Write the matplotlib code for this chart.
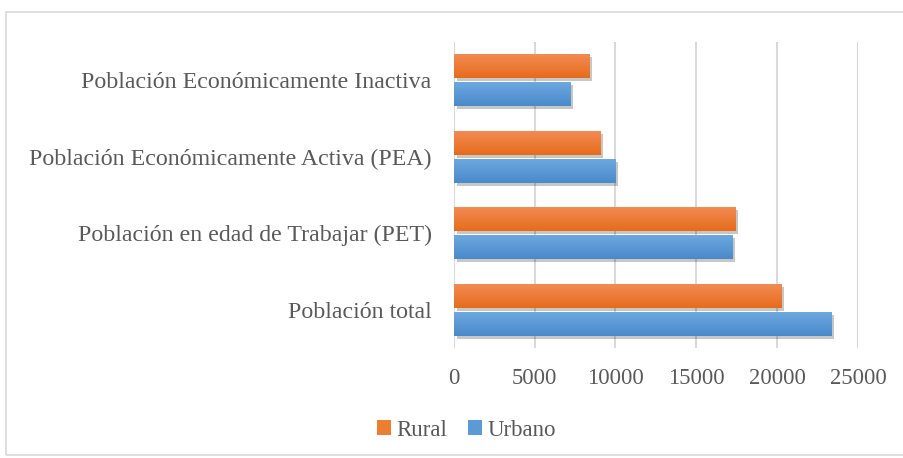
import matplotlib
matplotlib.use("Agg")
import matplotlib.pyplot as plt
import numpy as np
from matplotlib.patches import Rectangle, Patch
import matplotlib.patheffects as pe
from matplotlib.colors import LinearSegmentedColormap

categories = ["Población total", "Población en edad de Trabajar (PET)",
              "Población Económicamente Activa (PEA)", "Población Económicamente Inactiva"]
urbano = [23350, 17200, 9980, 7200]
rural = [20250, 17400, 9050, 8400]
xticks = [0, 5000, 10000, 15000, 20000, 25000]

plt.rcParams['font.family'] = ['Liberation Serif', 'DejaVu Serif']
grey = '#595959'

fig = plt.figure(figsize=(9.04, 4.58), dpi=100)
ax = fig.add_axes([0.502, 0.240, 0.447, 0.668])

y = np.arange(len(categories))
h = 0.314
off = 0.183

shadow = [pe.SimplePatchShadow(offset=(2, -2), shadow_rgbFace='#000000', alpha=0.22), pe.Normal()]
b_u = ax.barh(y - off, urbano, height=h, color='#5B9BD5', zorder=3, path_effects=shadow)
b_r = ax.barh(y + off, rural, height=h, color='#ED7D31', zorder=3, path_effects=shadow)

grad = np.linspace(0, 1, 64).reshape(-1, 1)
cm_u = LinearSegmentedColormap.from_list('u', ['#6EA9E0', '#4A8ACB'])
cm_r = LinearSegmentedColormap.from_list('r', ['#F38C55', '#E66C1C'])
for bars, cm in ((b_u, cm_u), (b_r, cm_r)):
    for bar in bars:
        x0, y0 = bar.get_x(), bar.get_y()
        w, hh = bar.get_width(), bar.get_height()
        im = ax.imshow(grad, cmap=cm, aspect='auto', origin='upper',
                       extent=(x0, x0 + w, y0, y0 + hh), zorder=4)
        im.set_clip_path(bar)

ax.set_xlim(0, 25000)
ax.set_ylim(-0.5, 3.5)
ax.set_xticks(xticks)
ax.set_xticklabels([str(t) for t in xticks])
ax.set_yticks(y)
ax.set_yticklabels(categories)
ax.tick_params(axis='both', length=0, colors=grey)
ax.tick_params(axis='y', pad=16, labelsize=17.2)
ax.tick_params(axis='x', pad=14, labelsize=16.3)
ax.grid(axis='x', color='#D9D9D9', linewidth=1.5, zorder=0)
for s in ax.spines.values():
    s.set_visible(False)

handles = [Patch(facecolor='#ED7D31', label='Rural'), Patch(facecolor='#5B9BD5', label='Urbano')]
leg = fig.legend(handles=handles, loc='center', bbox_to_anchor=(0.516, 0.061), ncol=2,
                 frameon=False, fontsize=16.5, handlelength=0.6, handleheight=0.6,
                 handletextpad=0.25, columnspacing=0.9, labelcolor=grey)

fig.patches.append(Rectangle((6 / 904, 3 / 458), 1.2, 1 - 15 / 458, transform=fig.transFigure,
                             fill=False, edgecolor='#D9D9D9', linewidth=1.2))

fig.savefig('out.png', dpi=100)
